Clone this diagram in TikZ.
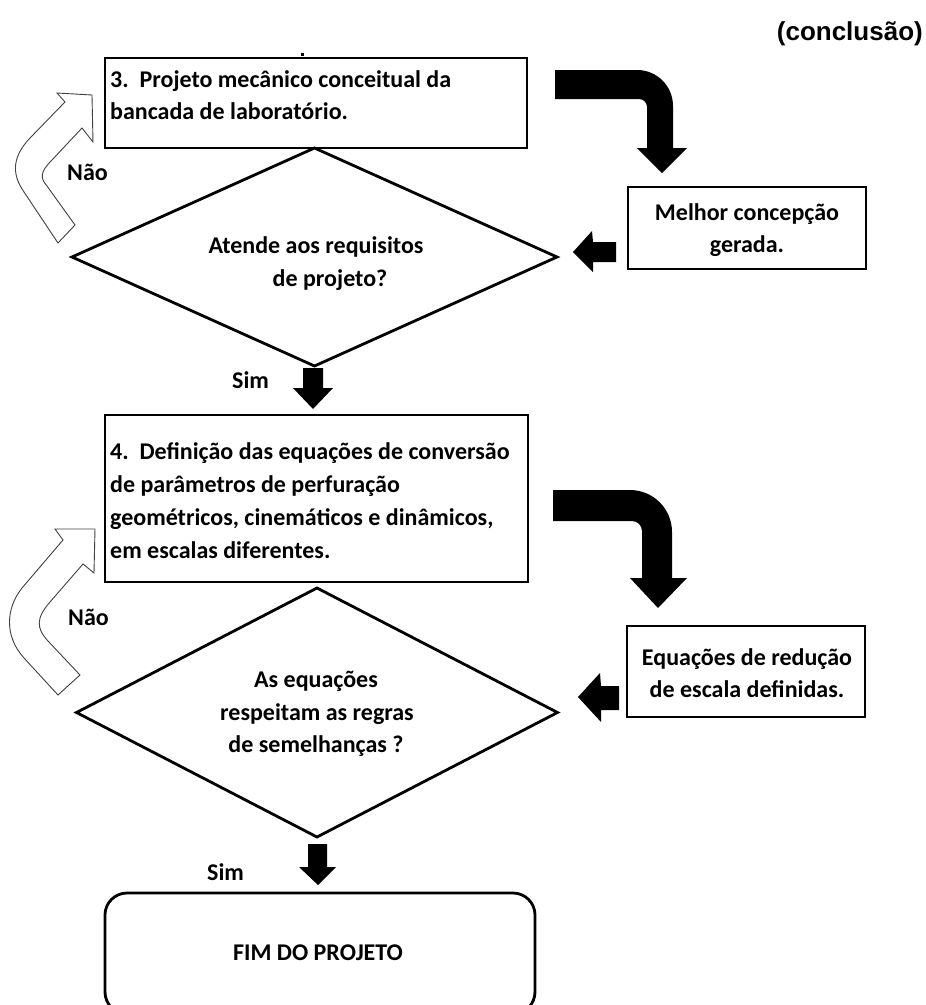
\documentclass[tikz,border=0pt]{standalone}
\usepackage{fontspec}
\setmainfont{Carlito}
\newfontfamily\headfont{Liberation Sans}
\usetikzlibrary{shapes.geometric}

\begin{document}
\begin{tikzpicture}[x=1pt,y=-1pt,
  box/.style={draw=black, line width=2.8pt, inner sep=0pt, outer sep=0pt},
  dec/.style={diamond, draw=black, line width=2.8pt, inner sep=0pt, outer sep=0pt},
  lbl/.style={inner sep=0pt, font=\fontsize{24}{28}\selectfont\bfseries},
  blk/.style={fill=black},
  hollow/.style={draw=black!75, line width=0.9pt, fill=white, line join=miter}
]
\useasboundingbox (0,0) rectangle (926,1005);
\clip (0,0) rectangle (926,1005);

% heading
\node[inner sep=0pt, anchor=base east, font=\headfont\fontsize{26}{30}\selectfont\bfseries] (head) at (923,40) {(conclusão)};

% step 3
\node[box, minimum width=422pt, minimum height=90pt] (b3) at (316,103) {};
\fill (301,53) rectangle (304,56);
\node[lbl, anchor=base west] (b3a) at (110,87) {3.\ \ Projeto mecânico conceitual da};
\node[lbl, anchor=base west] (b3b) at (110,119) {bancada de laboratório.};

% decision 1
\node[dec, minimum width=485pt, minimum height=218pt] (d1) at (314.5,257) {};
\node[lbl, anchor=base] (d1a) at (316,253) {Atende aos requisitos};
\node[lbl, anchor=base] (d1b) at (330,286) {de projeto?};

% outcome of step 3
\node[box, minimum width=238pt, minimum height=82pt] (m1) at (747,228) {};
\node[lbl, anchor=base] (m1a) at (747,220) {Melhor concepção};
\node[lbl, anchor=base] (m1b) at (747,252) {gerada.};

% bent arrow: step 3 -> outcome
\fill[blk] (555,70) -- (637,70) .. controls (657,70) and (673,86) .. (673,106)
  -- (673,148) -- (687,148) -- (662,173) -- (637,148) -- (647,148)
  -- (647,107) .. controls (647,102.6) and (643.4,99) .. (639,99) -- (555,99) -- cycle;

% outcome -> decision 1
\fill[blk] (616,242) -- (593,242) -- (592,231) -- (573,252) -- (593,272) -- (593,262) -- (616,262) -- cycle;

% return arrow "Não" 1
\filldraw[hollow] (58,243) -- (24,192) .. controls (10,172) and (14,155) .. (30,138)
  -- (65,102) -- (57,93) -- (92,95) -- (93,142) -- (82,128) -- (52,160)
  .. controls (40,172) and (40,178) .. (47,186) -- (75,225) -- cycle;
\node[lbl, anchor=base west] (n1) at (67,180) {Não};

% "Sim" 1
\fill[blk] (303,368) -- (323,368) -- (323,388) -- (333,388) -- (313,409) -- (293,388) -- (303,388) -- cycle;
\node[lbl, anchor=base west] (s1) at (232,388) {Sim};

% step 4
\node[box, minimum width=423pt, minimum height=167pt] (b4) at (316.5,498.5) {};
\node[lbl, anchor=base west] (b4a) at (110,459) {4.\ \ Definição das equações de conversão};
\node[lbl, anchor=base west] (b4b) at (110,492) {de parâmetros de perfuração};
\node[lbl, anchor=base west] (b4c) at (110,525) {geométricos, cinemáticos e dinâmicos,};
\node[lbl, anchor=base west] (b4d) at (110,558) {em escalas diferentes.};

% bent arrow: step 4 -> outcome
\fill[blk] (553,490) -- (630,490) .. controls (653.2,490) and (672,508.8) .. (672,532)
  -- (672,578) -- (687,578) -- (658,608) -- (630,578) -- (642,578)
  -- (642,531) .. controls (642,525.5) and (637.5,521) .. (632,521) -- (553,521) -- cycle;

% outcome of step 4
\node[box, minimum width=238pt, minimum height=91pt] (m2) at (746,671.5) {};
\node[lbl, anchor=base] (m2a) at (747,665) {Equações de redução};
\node[lbl, anchor=base] (m2b) at (747,697) {de escala definidas.};

% outcome -> decision 2
\fill[blk] (619,686) -- (601,686) -- (600,673) -- (578,697) -- (601,722) -- (601,710) -- (619,710) -- cycle;

% decision 2
\node[dec, minimum width=481pt, minimum height=249pt] (d2) at (317,712.5) {};
\node[lbl, anchor=base] (d2a) at (316,687) {As equações};
\node[lbl, anchor=base] (d2b) at (317,720) {respeitam as regras};
\node[lbl, anchor=base] (d2c) at (316,752) {de semelhanças ?};

% return arrow "Não" 2
\filldraw[hollow] (58,695) -- (24,658) .. controls (4,636) and (6,608) .. (22,588)
  -- (63,540) -- (55,529) -- (95,529) -- (94,573) -- (83,564) -- (50,602)
  .. controls (36,618) and (36,628) .. (48,641) -- (80,675) -- cycle;
\node[lbl, anchor=base west] (n2) at (68,625) {Não};

% "Sim" 2
\fill[blk] (308,844) -- (327,844) -- (327,867) -- (336,867) -- (318,885) -- (299,867) -- (308,867) -- cycle;
\node[lbl, anchor=base west] (s2) at (207,880) {Sim};

% end
\node[box, rounded corners=22pt, minimum width=430pt, minimum height=121pt] (fim) at (320,953.5) {};
\node[lbl, anchor=base] (fima) at (318,960) {FIM DO PROJETO};
\end{tikzpicture}
\end{document}
